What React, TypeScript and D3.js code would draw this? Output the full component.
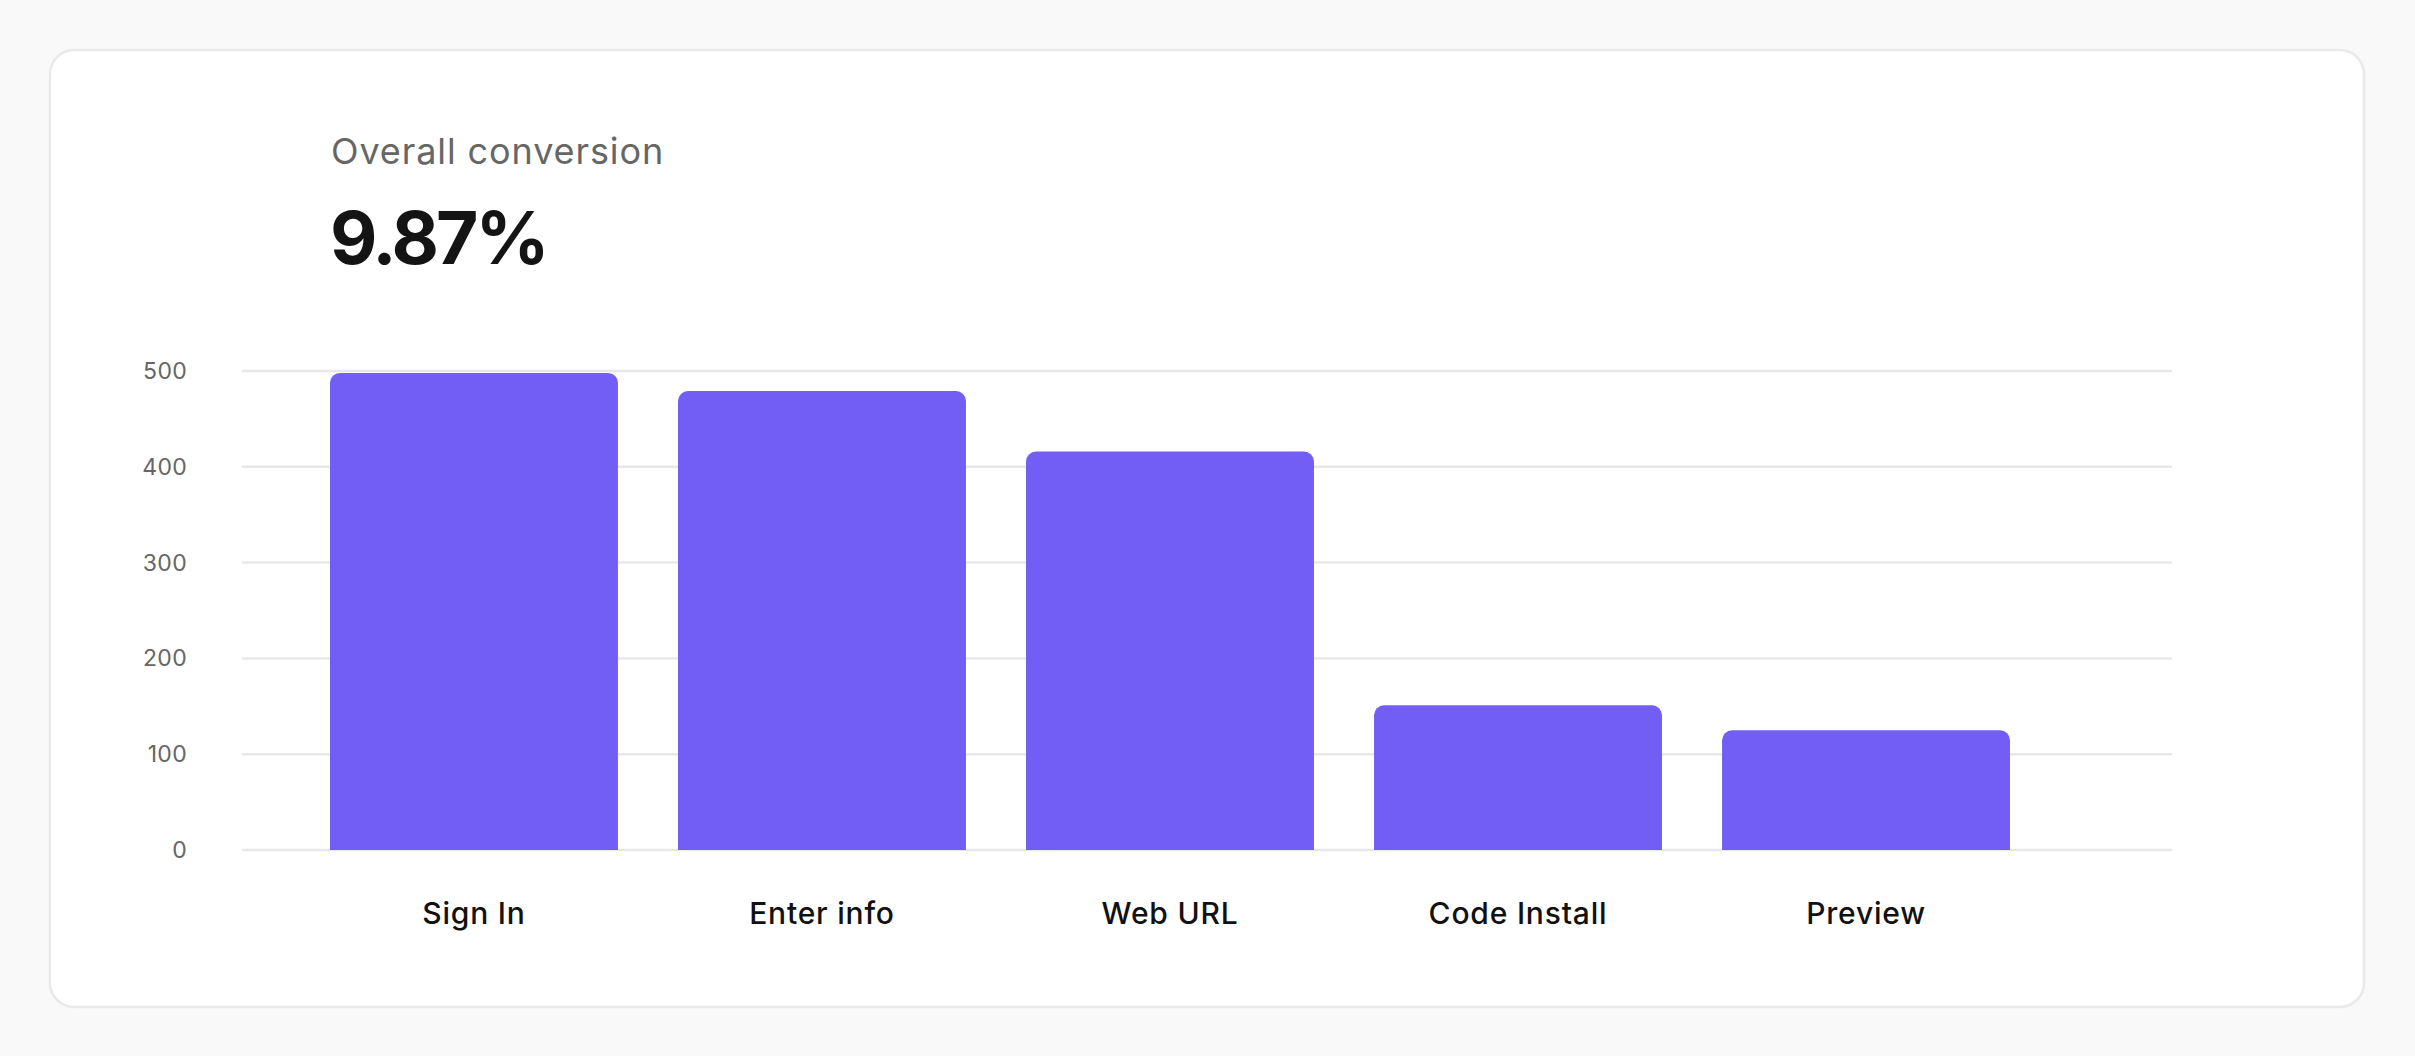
import React from "react";
import * as d3 from "d3";

const categories = ["Sign In", "Enter info", "Web URL", "Code Install", "Preview"];
const values = [498, 479, 416, 151, 125];
const yTicks = [0, 100, 200, 300, 400, 500];
const titleText = "Overall conversion";
const headlineValue = "9.87%";

const W = 2415;
const H = 1056;
const FONT = "Inter, 'Noto Sans', sans-serif";

export default function App() {
  const y = d3.scaleLinear().domain([0, 500]).range([850, 371]);
  const x = d3
    .scaleBand<string>()
    .domain(categories)
    .range([330, 2010])
    .paddingInner(0.1726)
    .paddingOuter(0);
  const r = 10;
  const barPath = (cat: string, v: number) => {
    const x0 = x(cat)!;
    const w = x.bandwidth();
    const y0 = y(0);
    const y1 = y(v);
    const p = d3.path();
    p.moveTo(x0, y0);
    p.lineTo(x0, y1 + r);
    p.arcTo(x0, y1, x0 + r, y1, r);
    p.lineTo(x0 + w - r, y1);
    p.arcTo(x0 + w, y1, x0 + w, y1 + r, r);
    p.lineTo(x0 + w, y0);
    p.closePath();
    return p.toString();
  };
  return (
    <svg
      width={W}
      height={H}
      style={{ position: "absolute", left: 0, top: 0, display: "block" }}
    >
      <rect x={0} y={0} width={W} height={H} fill="#f9f9f9" />
      <rect
        x={50}
        y={50}
        width={2314}
        height={957}
        rx={24}
        ry={24}
        fill="#ffffff"
        stroke="#e9e9e9"
        strokeWidth={2.5}
      />
      <text
        x={331}
        y={164}
        fontFamily={FONT}
        fontSize={36}
        letterSpacing={0.9}
        fill="#666666"
      >
        {titleText}
      </text>
      <text
        x={330}
        y={264}
        fontFamily={FONT}
        fontSize={73}
        fontWeight={700}
        letterSpacing={-3}
        fill="#141414"
      >
        {headlineValue}
      </text>
      <g>
        {yTicks.map((t) => (
          <g key={t}>
            <line
              x1={242}
              x2={2172}
              y1={y(t)}
              y2={y(t)}
              stroke="#e8e8e8"
              strokeWidth={2.5}
            />
            <text
              x={187}
              y={y(t)}
              dy="0.35em"
              textAnchor="end"
              fontFamily={FONT}
              fontSize={23}
              letterSpacing={0.3}
              fill="#666666"
            >
              {t}
            </text>
          </g>
        ))}
      </g>
      <g>
        {categories.map((c, i) => (
          <path key={c} d={barPath(c, values[i])} fill="#735ef5" />
        ))}
      </g>
      <g>
        {categories.map((c) => (
          <text
            key={c}
            x={x(c)! + x.bandwidth() / 2}
            y={924}
            textAnchor="middle"
            fontFamily={FONT}
            fontSize={30}
            fontWeight={500}
            letterSpacing={0.8}
            fill="#111111"
          >
            {c}
          </text>
        ))}
      </g>
    </svg>
  );
}
